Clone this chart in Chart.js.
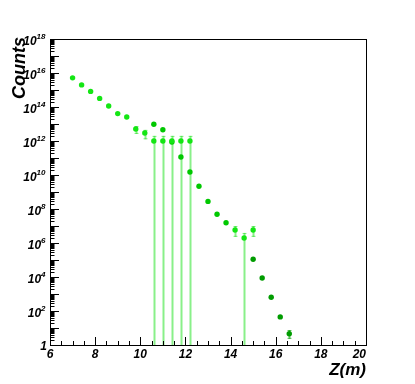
<!DOCTYPE html>
<html>
<head>
<meta charset="utf-8">
<script src="https://cdn.jsdelivr.net/npm/chart.js@4/dist/chart.umd.min.js"></script>
<style>
  html, body { margin: 0; padding: 0; background: #ffffff; }
  #wrap { width: 415px; height: 384px; }
</style>
</head>
<body>
<div id="wrap"><canvas id="c" width="415" height="384"></canvas></div>
<script>
// ---- data ----
const zBright = [7.0, 7.4, 7.8, 8.2, 8.6, 9.0, 9.4, 9.8, 10.2, 10.6, 11.0, 11.4, 11.8, 12.2, 14.2, 14.6, 15.0];
const cBright = [5.2e15, 2.0e15, 8.3e14, 3.2e14, 1.15e14, 4.1e13, 2.6e13, 5.1e12, 2.95e12, 1e12, 1e12, 1e12, 1e12, 1e12, 5.8e6, 1.95e6, 5.8e6];
const loBright = [null, null, null, null, null, null, null, 2.6e12, 1.26e12, 0, 0, 0, 0, 0, 2.3e6, 0, 2.3e6];
const hiBright = [null, null, null, null, null, null, null, 7.6e12, 4.5e12, 2e12, 2e12, 2e12, 2e12, 2e12, 1e7, 3.9e6, 1e7];

const zMid = [10.6, 11.0, 11.4, 11.8, 12.2, 12.6, 13.0, 13.4, 13.8];
const cMid = [9.6e12, 4.6e12, 8.8e11, 1.15e11, 1.5e10, 2.2e9, 2.8e8, 4.9e7, 1.55e7];

const zDark = [15.0, 15.4, 15.8, 16.2, 16.6];
const cDark = [1.1e5, 8.7e3, 640, 45, 4.6];
const loDark = [null, null, null, null, 2.3];
const hiDark = [null, null, null, null, 7.6];

const xMin = 6, xMax = 20;
const yMin = 1, yMax = 1e18;
const xMajorTicks = [6, 8, 10, 12, 14, 16, 18, 20];
const xTickLabels = ['6', '8', '10', '12', '14', '16', '18', '20'];
const yLabelExponents = [0, 2, 4, 6, 8, 10, 12, 14, 16, 18];
const xTitle = 'Z(m)';
const yTitle = 'Counts';

function pts(xs, ys) { return xs.map((x, i) => ({ x: x, y: ys[i] })); }

const FONT = "'Liberation Sans', Arial, sans-serif";

const errorBarPlugin = {
  id: 'errorBars',
  beforeDatasetsDraw(chart) {
    const ctx = chart.ctx;
    const xs = chart.scales.x, ys = chart.scales.y;
    const area = chart.chartArea;
    ctx.save();
    ctx.beginPath();
    ctx.rect(area.left, area.top, area.right - area.left, area.bottom - area.top);
    ctx.clip();
    chart.data.datasets.forEach(ds => {
      if (!ds.errLo) return;
      ctx.strokeStyle = ds.errColor;
      ds.data.forEach((p, i) => {
        const lo = ds.errLo[i], hi = ds.errHi[i];
        if (lo === null || lo === undefined) return;
        const px = Math.round(xs.getPixelForValue(p.x)) + 0.5;
        const yLo = ys.getPixelForValue(lo);
        const yHi = ys.getPixelForValue(hi);
        ctx.lineWidth = 2;
        ctx.beginPath();
        ctx.moveTo(px, yLo);
        ctx.lineTo(px, yHi);
        ctx.stroke();
        ctx.lineWidth = 1;
        ctx.beginPath();
        ctx.moveTo(px - 2, yHi + 0.5); ctx.lineTo(px + 2, yHi + 0.5);
        if (lo > 0) { ctx.moveTo(px - 2, yLo - 0.5); ctx.lineTo(px + 2, yLo - 0.5); }
        ctx.stroke();
      });
    });
    ctx.restore();
  }
};

const frameAxesPlugin = {
  id: 'frameAxes',
  afterDraw(chart) {
    const ctx = chart.ctx;
    const xs = chart.scales.x, ys = chart.scales.y;
    const a = chart.chartArea;
    ctx.save();
    // frame
    ctx.strokeStyle = '#000000';
    ctx.lineWidth = 1;
    ctx.strokeRect(Math.round(a.left) + 0.5, Math.round(a.top) + 0.5,
                   Math.round(a.right - a.left), Math.round(a.bottom - a.top));
    // x ticks (inside, bottom)
    ctx.beginPath();
    for (let v = xMin; v <= xMax + 1e-9; v += 0.5) {
      const px = Math.round(xs.getPixelForValue(v)) + 0.5;
      const isMajor = Math.abs(v / 2 - Math.round(v / 2)) < 1e-9;
      const len = isMajor ? 8 : 4;
      ctx.moveTo(px, a.bottom);
      ctx.lineTo(px, a.bottom - len);
    }
    // y ticks (inside, left)
    for (let e = 0; e < 18; e++) {
      for (let m = 1; m <= 9; m++) {
        const v = m * Math.pow(10, e);
        const py = Math.round(ys.getPixelForValue(v)) + 0.5;
        const len = m === 1 ? 9 : 4.5;
        ctx.moveTo(a.left, py);
        ctx.lineTo(a.left + len, py);
      }
    }
    ctx.stroke();

    // x labels
    ctx.fillStyle = '#000000';
    ctx.textBaseline = 'alphabetic';
    ctx.font = 'bold italic 12px ' + FONT;
    xMajorTicks.forEach((v, i) => {
      const px = xs.getPixelForValue(v);
      const w = ctx.measureText(xTickLabels[i]).width;
      let left = px - w / 2;
      if (left + w > a.right) left = a.right - w;
      ctx.textAlign = 'left';
      ctx.fillText(xTickLabels[i], left, a.bottom + 13);
    });
    // y labels
    yLabelExponents.forEach(e => {
      const py = ys.getPixelForValue(Math.pow(10, e));
      const right = a.left - 4.5;
      if (e === 0) {
        ctx.font = 'bold italic 12px ' + FONT;
        ctx.textAlign = 'right';
        ctx.fillText('1', right + 1.5, py + 4.5);
        return;
      }
      ctx.font = 'bold italic 8px ' + FONT;
      const sup = String(e);
      const ws = ctx.measureText(sup).width;
      ctx.font = 'bold italic 12px ' + FONT;
      const wb = ctx.measureText('10').width;
      ctx.textAlign = 'left';
      ctx.fillText('10', right - ws - wb, py + 6);
      ctx.font = 'bold italic 8px ' + FONT;
      ctx.fillText(sup, right - ws, py);
    });

    // axis titles
    ctx.font = 'bold italic 17px ' + FONT;
    ctx.textAlign = 'right';
    ctx.fillText(xTitle, a.right, a.bottom + 30);
    ctx.save();
    ctx.translate(25, a.top - 2);
    ctx.rotate(-Math.PI / 2);
    ctx.font = 'bold italic 18px ' + FONT;
    ctx.textAlign = 'right';
    ctx.fillText(yTitle, 0, 0);
    ctx.restore();
    ctx.restore();
  }
};

new Chart(document.getElementById('c'), {
  type: 'scatter',
  data: {
    datasets: [
      {
        label: 'bright',
        data: pts(zBright, cBright),
        errLo: loBright, errHi: hiBright,
        errColor: 'rgba(20, 225, 20, 0.5)',
        backgroundColor: '#14e614',
        pointRadius: 2.7, pointBorderWidth: 0, pointHoverRadius: 2.7
      },
      {
        label: 'mid',
        data: pts(zMid, cMid),
        backgroundColor: '#00c800',
        pointRadius: 2.7, pointBorderWidth: 0, pointHoverRadius: 2.7
      },
      {
        label: 'dark',
        data: pts(zDark, cDark),
        errLo: loDark, errHi: hiDark,
        errColor: 'rgba(0, 160, 0, 0.6)',
        backgroundColor: '#009c00',
        pointRadius: 2.7, pointBorderWidth: 0, pointHoverRadius: 2.7
      }
    ]
  },
  options: {
    responsive: false,
    animation: false,
    events: [],
    layout: { padding: { left: 50, right: 49, top: 39, bottom: 39 } },
    plugins: { legend: { display: false }, tooltip: { enabled: false } },
    scales: {
      x: { type: 'linear', min: xMin, max: xMax, display: false },
      y: { type: 'logarithmic', min: yMin, max: yMax, display: false }
    }
  },
  plugins: [errorBarPlugin, frameAxesPlugin]
});
</script>
</body>
</html>
